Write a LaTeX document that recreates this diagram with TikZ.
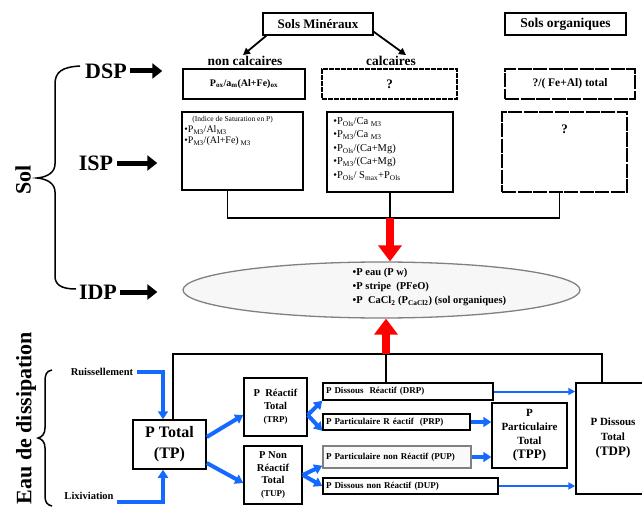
\documentclass[tikz,border=0pt]{standalone}
\usepackage{fontspec}
\setmainfont{Liberation Serif}
\usetikzlibrary{positioning,shapes,arrows.meta}
\definecolor{flowblue}{HTML}{1469FF}
\newcommand{\fsz}[2]{\fontsize{#1}{#2}\selectfont}
\newcommand{\sbs}[1]{\textsubscript{#1}}
\tikzstyle{box}=[rectangle, draw=black, line width=1.5pt, inner sep=1pt, align=center,
font=\bfseries\fsz{9}{11}]
\tikzstyle{dashbox}=[box, line width=2.4pt, dash pattern=on 5pt off 1pt]
\tikzstyle{longdash}=[box, line width=1.6pt, dash pattern=on 14pt off 1.5pt]
\tikzstyle{strip}=[box, align=left, inner xsep=3pt, inner ysep=0pt, font=\bfseries\fsz{9}{10}]
\tikzstyle{head}=[font=\bfseries\fsz{22}{24}]
\tikzstyle{fat}=[line width=5pt, -{Triangle[length=10pt,width=15pt]}]
\tikzstyle{hot}=[line width=8pt, red, -{Triangle[length=16pt,width=23pt]}]
\tikzstyle{feed}=[line width=4pt, flowblue, -{Triangle[length=8pt,width=10pt]}]
\tikzstyle{slim}=[line width=2pt, flowblue, -{Triangle[length=7pt,width=7pt]}]
\tikzstyle{pointer}=[line width=1.8pt, -{Triangle[length=7pt,width=7pt]}]
\tikzstyle{wire}=[line width=1.5pt]
\begin{document}
\begin{tikzpicture}[x=1pt,y=-1pt]
\useasboundingbox (0,0) rectangle (642,508);

% en-tetes
\node (mineral)[box, font=\bfseries\fsz{13}{15}, minimum width=110, minimum height=22] at (318,24) {Sols Minéraux};
\node (organic)[box, font=\bfseries\fsz{13.5}{15}, minimum width=121, minimum height=22] at (565.5,24) {Sols organiques};
\node (noncal)[font=\bfseries\fsz{13.4}{15}, inner sep=1pt] at (245,61) {non calcaires};
\node (cal)[font=\bfseries\fsz{13.4}{15}, inner sep=1pt] at (391,61) {calcaires};
\draw[pointer] ([xshift=4pt]mineral.south west) -- ([xshift=-2pt]noncal.north);
\draw[pointer] ([yshift=4pt]mineral.south east) -- ([xshift=15pt]cal.north);

% DSP
\node (dsp)[head] at (106,71) {DSP};
\node (dspa)[box, font=\bfseries\fsz{10}{12}, minimum width=122, minimum height=30] at (244,84) {P\sbs{ox}/a\sbs{m}(Al+Fe)\sbs{ox}};
\node (dspb)[dashbox, font=\bfseries\fsz{13}{15}, minimum width=135, minimum height=30] at (389.5,84) {?};
\node (dspc)[longdash, font=\bfseries\fsz{11.5}{13}, minimum width=130, minimum height=30] at (570,84) {?/( Fe+Al) total};
\draw[fat] (dsp.east) -- ([xshift=-20pt]dspa.west |- dsp.east);

% ISP
\node (isp)[head] at (96,163) {ISP};
\node (ispa)[box, minimum width=121, minimum height=78] at (242.5,151) {};
\node (ispb)[box, minimum width=126, minimum height=80] at (390,152) {};
\node (ispc)[longdash, minimum width=125, minimum height=80] at (564.5,152) {};
\node (ispq)[font=\bfseries\fsz{13}{15}] at ([yshift=-18pt]ispc.north) {?};
\node (ispatext)[anchor=north west, align=left, font=\fsz{10}{11}, inner sep=0] at ([xshift=3pt,yshift=-5pt]ispa.north west)
  {\hspace*{8pt}{\fsz{7.5}{9}(Indice de Saturation en P)}\\
   •P\sbs{M3}/Al\sbs{M3}\\
   •P\sbs{M3}/(Al+Fe)\sbs{~M3}};
\node (ispbtext)[anchor=north west, align=left, font=\fsz{10.5}{13.5}, inner sep=0] at ([xshift=7pt,yshift=-6pt]ispb.north west)
  {•P\sbs{Ols}/Ca \sbs{M3}\\
   •P\sbs{M3}/Ca \sbs{M3}\\
   •P\sbs{Ols}/(Ca+Mg)\\
   •P\sbs{M3}/(Ca+Mg)\\
   •P\sbs{Ols}/ S\sbs{max}+P\sbs{Ols}};
\draw[fat] (isp.east) -- ([xshift=-24pt]ispa.west |- isp.east);
\coordinate (bus) at (0,218);
\draw[wire] ([xshift=-15pt]ispa.south) |- ([xshift=-5pt]ispc.south |- bus) -- ([xshift=-5pt]ispc.south);
\draw[wire] (ispb.south) -- (ispb.south |- bus);

% IDP
\node (idp)[head] at (98,292) {IDP};
\node (ell)[ellipse, draw=gray, line width=1.3pt, fill=gray!6, minimum width=397, minimum height=56, inner sep=0] at (381.5,290) {};
\node (idptext)[anchor=west, align=left, font=\bfseries\fsz{10.5}{14}, inner sep=0] at ([xshift=-29pt,yshift=3pt]ell.center)
  {•P eau (P w)\\
   •P stripe~ (PFeO)\\
   •P~ CaCl\sbs{2} (P\sbs{CaCl2}) (sol organiques)};
\draw[fat] (idp.east) -- ([xshift=-25pt]ell.west |- idp.east);
\draw[hot] (ispb.south |- bus) -- (ispb.south |- ell.north);

% accolade Sol
\node (sol)[head, rotate=90] at (23,180) {Sol};
\draw[line width=1.5pt] (80,66) .. controls (62,67) and (55,72) .. (55,84) -- (55,164)
  .. controls (55,172) and (48,177) .. (37,178) .. controls (48,179) and (55,184) .. (55,192)
  -- (55,276) .. controls (55,284) and (60,289) .. (76,289);

% eau de dissipation
\node (eau)[font=\bfseries\fsz{22}{24}, rotate=90] at (26,418) {Eau de dissipation};
\draw[line width=1.5pt] (52,370) .. controls (46,371) and (45,375) .. (45,382) -- (45,428)
  .. controls (45,434) and (42,437) .. (38,438) .. controls (42,439) and (45,442) .. (45,448)
  -- (45,496) .. controls (45,502) and (47,505) .. (52,506);
\node (ruis)[font=\bfseries\fsz{10.5}{12}] at (102,372) {Ruissellement};
\node (lix)[font=\bfseries\fsz{10.5}{12}] at (89,496) {Lixiviation};

\node (tp)[box, font=\bfseries\fsz{16}{21}, minimum width=73, minimum height=49] at (169.5,444.5) {P Total\\(TP)};
\node (trp)[box, font=\bfseries\fsz{10.5}{13}, minimum width=63, minimum height=58] at (275.5,407) {P~ Réactif\\Total\\{\fsz{9}{13}(TRP)}};
\node (tup)[box, font=\bfseries\fsz{10.5}{12.5}, minimum width=58, minimum height=58] at (273,475) {P Non\\Réactif\\Total\\{\fsz{9}{12.5}(TUP)}};
\node (drp)[strip, minimum height=17, text width=164] at (408,391.5) {P Dissous~ Réactif (DRP)};
\node (prp)[strip, minimum height=16, text width=141] at (396.5,422) {P Particulaire R éactif~ (PRP)};
\node (pup)[strip, draw=gray, fill=gray!5, minimum height=22, text width=142] at (397,457) {P Particulaire non Réactif (PUP)};
\node (dup)[strip, minimum height=16, text width=169] at (410.5,486) {P Dissous non Réactif (DUP)};
\node (tpp)[box, font=\bfseries\fsz{11}{14}, minimum width=75, minimum height=65] at (529.5,435.5) {P\\Particulaire\\Total\\{\fsz{13}{15}(TPP)}};
\node (tdp)[box, font=\bfseries\fsz{11}{15}, minimum width=74, minimum height=111] at (613,438.5) {P Dissous\\Total\\{\fsz{13}{15}(TDP)}};

\coordinate (rail) at (0,354);
\draw[wire] ([xshift=3.5pt]tp.north) |- ([xshift=-11pt]tdp.north |- rail) -- ([xshift=-11pt]tdp.north);
\draw[wire] ([xshift=-22pt]drp.north) -- ([xshift=-22pt]drp.north |- rail);
\draw[hot] ([xshift=-22pt]drp.north |- rail) -- ([xshift=-22pt]drp.north |- ell.south);

\draw[feed] (ruis.east) -| ([xshift=-6.5pt]tp.north);
\draw[feed] ([yshift=-6pt]lix.east) -| ([xshift=-6.5pt]tp.south);
\draw[feed] ([yshift=7.5pt]tp.east) -- ([yshift=-8pt]trp.west);
\draw[feed] ([yshift=-18.5pt]tp.east) -- ([yshift=-8pt]tup.west);
\draw[feed] ([yshift=-8pt]trp.east) -- (drp.south west);
\draw[feed] ([yshift=-8pt]trp.east) -- (prp.south west);
\draw[feed] (tup.east) -- ([yshift=3pt]pup.south west);
\draw[feed] (tup.east) -- (dup.west);
\draw[feed] (prp.east) -- (prp.east -| tpp.west);
\draw[feed] (pup.east) -- (pup.east -| tpp.west);
\draw[slim] (drp.east) -- (drp.east -| tdp.west);
\draw[slim] (dup.east) -- (dup.east -| tdp.west);
\end{tikzpicture}
\end{document}
